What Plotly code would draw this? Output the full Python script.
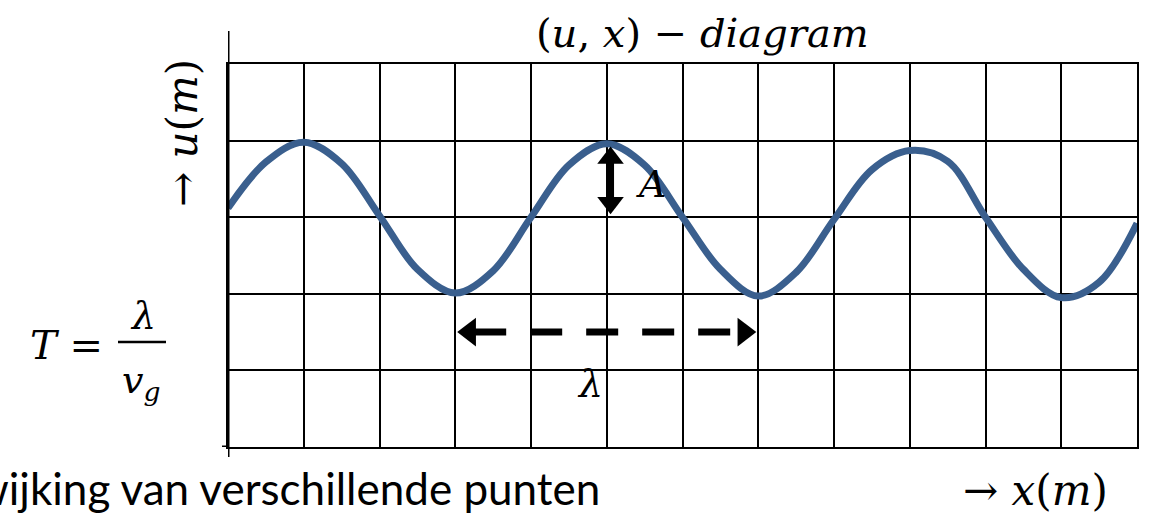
import plotly.graph_objects as go

x_pos = [0, 0.5, 1, 1.5, 2, 2.5, 3, 3.5, 4, 4.5, 5, 5.5, 6,
         6.5, 7, 7.5, 8, 8.5, 9, 9.5, 10, 10.5, 11, 11.5, 12]
u_pos = [0.12, 0.72, 0.98, 0.70, 0.02, -0.68, -0.99, -0.70, 0.0, 0.68, 0.96, 0.68, 0.0,
         -0.68, -1.03, -0.72, -0.03, 0.62, 0.87, 0.73, 0.0, -0.68, -1.05, -0.85, -0.08]

x_range = [0, 12]
u_range = [-3, 2]

# markeringen: amplitude en golflengte
amp_x = 5.05
amp_top = 0.96
amp_base = 0.0
lambda_start = 3      # eerste dal
lambda_end = 7        # tweede dal
lambda_level = -1.5

wave_color = "#3A5F8E"
math_font = "DejaVu Serif"

W, H = 1150, 518
L, R, T, B = 228, 13, 64, 71
pw, ph = W - L - R, H - T - B
ux = pw / (x_range[1] - x_range[0])   # pixels per hokje
uy = ph / (u_range[1] - u_range[0])


def px(xp):
    return (xp - L) / pw


def py(yp):
    return (H - B - yp) / ph


head = 25                       # markergrootte pijlpunt
tip = 1.155 * head / 2          # afstand midden -> punt (px)

fig = go.Figure()
fig.add_trace(go.Scatter(x=x_pos, y=u_pos, mode="lines", line=dict(color=wave_color, width=7, shape="spline"),
                         showlegend=False, hoverinfo="skip"))

# gestippelde pijl voor lambda
fig.add_shape(type="line", x0=lambda_start + 0.25, x1=lambda_end - 0.35, y0=lambda_level, y1=lambda_level,
              line=dict(color="black", width=7, dash="32px,24px"))
fig.add_trace(go.Scatter(x=[lambda_start + tip / ux, lambda_end - tip / ux], y=[lambda_level, lambda_level],
                         mode="markers", marker=dict(symbol=["triangle-left", "triangle-right"], size=head,
                                                     color="black", line=dict(width=0)),
                         showlegend=False, hoverinfo="skip"))

# dubbele pijl voor A
a_top = amp_top - tip / uy
a_bot = amp_base + tip / uy
fig.add_trace(go.Scatter(x=[amp_x, amp_x], y=[a_bot, a_top], mode="lines", line=dict(color="black", width=7),
                         showlegend=False, hoverinfo="skip"))
fig.add_trace(go.Scatter(x=[amp_x, amp_x], y=[a_top, a_bot], mode="markers",
                         marker=dict(symbol=["triangle-up", "triangle-down"], size=head - 2, color="black",
                                     line=dict(width=0)),
                         showlegend=False, hoverinfo="skip"))

# as-verlengingen
fig.add_shape(type="line", xref="x", yref="paper", x0=0, x1=0, y0=py(457), y1=py(31),
              line=dict(color="black", width=3))
fig.add_shape(type="line", xref="paper", yref="y", x0=px(222), x1=0, y0=u_range[0], y1=u_range[0],
              line=dict(color="black", width=3))
# breukstreep
fig.add_shape(type="line", xref="paper", yref="paper", x0=px(118), x1=px(166), y0=py(342), y1=py(342),
              line=dict(color="black", width=2.5))

texts = [
    ("(<i>u</i>, <i>x</i>) − <i>diagram</i>", 702, 33, 40, 0),
    ("→ <i>u</i>(<i>m</i>)", 182, 133, 42, -90),
    ("→ <i>x</i>(<i>m</i>)", 1035, 491, 42, 0),
    ("<i>T</i> =", 66, 345, 40, 0),
    ("<i>λ</i>", 143, 316, 38, 0),
    ("<i>v</i><sub><i>g</i></sub>", 141, 382, 38, 0),
    ("<i>λ</i>", 590, 384, 38, 0),
    ("<i>A</i>", 651, 184, 38, 0),
]
for txt, xp, yp, size, ang in texts:
    fig.add_annotation(x=px(xp), y=py(yp), xref="paper", yref="paper", text=txt, showarrow=False,
                       xanchor="center", yanchor="middle", textangle=ang,
                       font=dict(family=math_font, size=size, color="black"))

fig.add_annotation(x=px(602), y=py(488), xref="paper", yref="paper", text="Uitwijking van verschillende punten",
                   showarrow=False, xanchor="right", yanchor="middle",
                   font=dict(family="Lato", size=44, color="black"))

axis_style = dict(showgrid=True, gridcolor="black", gridwidth=2, dtick=1, zeroline=False,
                  showticklabels=False, ticks="", showline=True, linecolor="black", linewidth=2, mirror=True)
fig.update_xaxes(range=x_range, tick0=0, **axis_style)
fig.update_yaxes(range=u_range, tick0=-3, **axis_style)

fig.update_layout(width=W, height=H, autosize=False, margin=dict(l=L, r=R, t=T, b=B),
                  plot_bgcolor="white", paper_bgcolor="white", showlegend=False)

fig.write_html("out.html", config={"displayModeBar": False},
               post_script="document.body.style.margin='0';")
